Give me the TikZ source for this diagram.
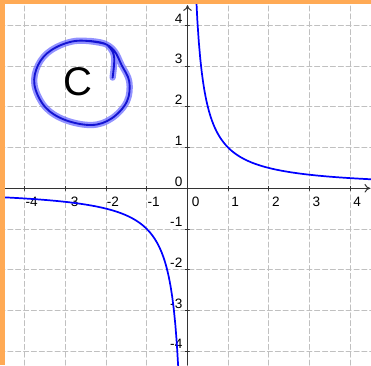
\documentclass[tikz,border=0pt]{standalone}
\usepackage{fontspec}
\setmainfont{Liberation Sans}
\usetikzlibrary{arrows.meta}
\definecolor{edgeorange}{RGB}{255,170,85}
\definecolor{gridgrey}{RGB}{192,192,192}
\definecolor{penblue}{RGB}{20,20,210}
\definecolor{haloblue}{RGB}{110,110,255}
\tikzset{
  gridline/.style={color=gridgrey,line width=0.7pt,dash pattern=on 3.5pt off 2pt},
  axisline/.style={color=black!80,line width=0.7pt,-{To[length=4pt,width=6pt]}},
  ticklabel/.style={font=\fontsize{9.5}{10}\selectfont,inner sep=0pt},
  hyperbola/.style={color=blue,line width=1.2pt},
}
\begin{document}
\begin{tikzpicture}[line cap=round,line join=round,x=1.0cm,y=1.0cm]
			\useasboundingbox (-4.607,-4.342) rectangle (4.509,4.627);
			\fill[white] (-4.607,-4.342) rectangle (4.509,4.627);
			\draw[gridline] (-4.607,-4.342) grid (4.509,4.627);
			\draw[axisline] (-4.607,0)--(4.49,0);
			\draw[axisline] (0,-4.342)--(0,4.5);
			\foreach \k in {-4,-3,-2,-1,1,2,3,4} {
				\draw[color=black!80,line width=0.6pt] (\k,-0.05)--(\k,0.05) (-0.05,\k)--(0.05,\k);
				\node[ticklabel] (xl\k) at (\k+0.17,-0.33) {\k};
				\node[ticklabel,anchor=east] (yl\k) at (-0.12,\k+0.17) {\k};
			}
			\node[ticklabel] (xl0) at (0.2,-0.33) {0};
			\node[ticklabel,anchor=east] (yl0) at (-0.12,0.15) {0};
			\begin{scope}
				\clip (-4.607,-4.342) rectangle (4.509,4.627);
				\draw[hyperbola,domain=0.205:4.51,samples=120] plot (\x,{1/\x});
				\draw[hyperbola,domain=-4.61:-0.225,samples=120] plot (\x,{1/\x});
			\end{scope}
			\draw[color=haloblue,opacity=0.75,line width=4.4pt] plot[smooth,tension=0.6] coordinates {(-2.4,3.62) (-2.05,3.56) (-1.80,3.38) (-1.62,3.03) (-1.43,2.62) (-1.49,2.13) (-1.86,1.72) (-2.35,1.555) (-3.01,1.68) (-3.50,2.00) (-3.76,2.54) (-3.67,3.03) (-3.34,3.40) (-2.76,3.62) (-2.11,3.57) (-1.90,3.45) (-1.80,3.20) (-1.84,2.72)};
			\draw[color=penblue,line width=1.3pt] plot[smooth,tension=0.6] coordinates {(-2.4,3.62) (-2.05,3.56) (-1.80,3.38) (-1.62,3.03) (-1.43,2.62) (-1.49,2.13) (-1.86,1.72) (-2.35,1.555) (-3.01,1.68) (-3.50,2.00) (-3.76,2.54) (-3.67,3.03) (-3.34,3.40) (-2.76,3.62) (-2.11,3.57) (-1.90,3.45) (-1.80,3.20) (-1.84,2.72)};
			\node[font=\fontsize{28}{30}\selectfont,inner sep=0pt] (letterC) at (-2.70,2.62) {C};
			\fill[color=edgeorange] (-4.607,-4.342) rectangle (-4.484,4.627);
			\fill[color=edgeorange] (-4.607,4.529) rectangle (4.509,4.627);
		\end{tikzpicture}
\end{document}
